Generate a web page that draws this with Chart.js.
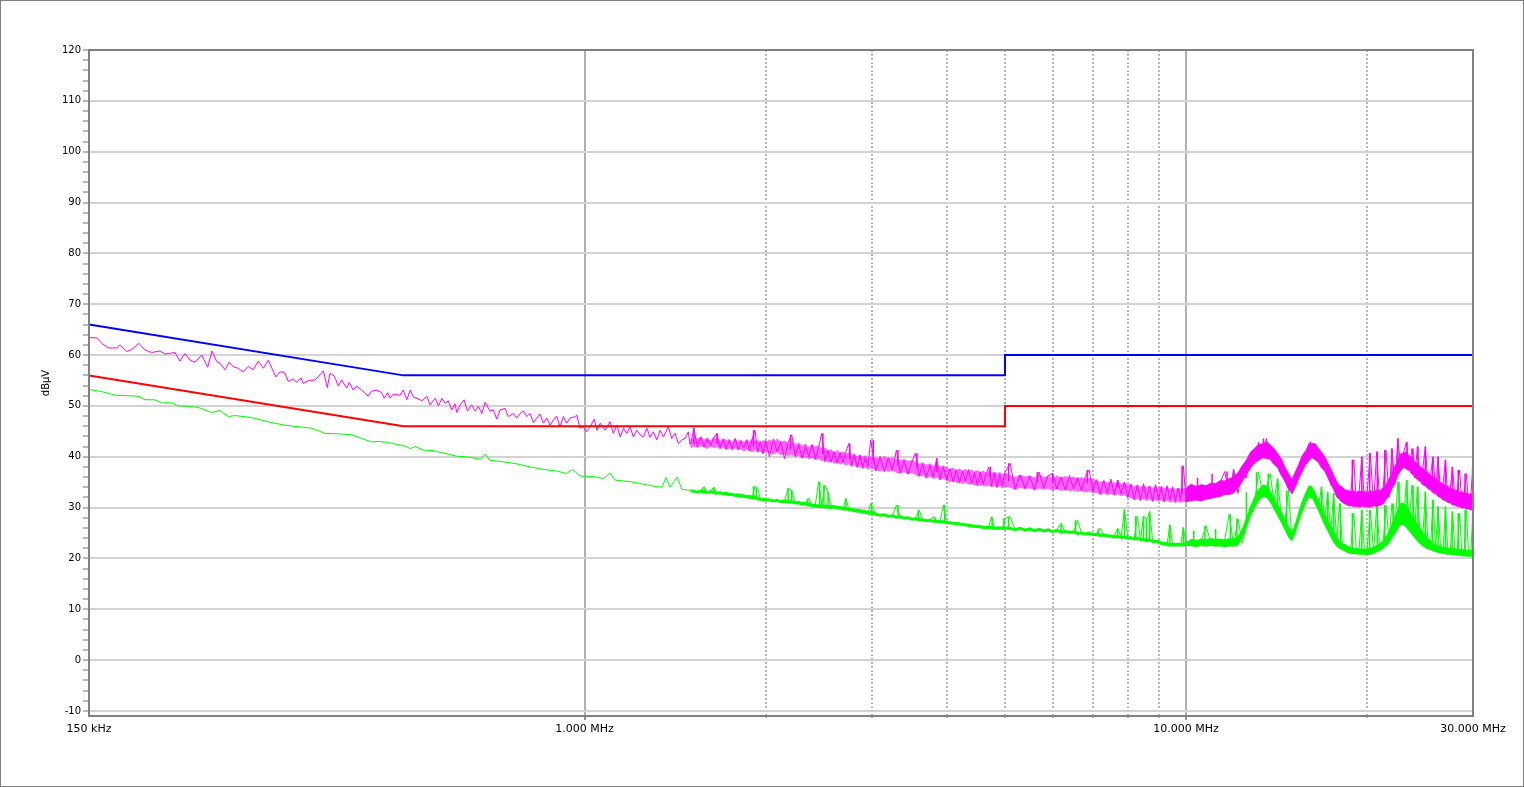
<!DOCTYPE html>
<html><head><meta charset="utf-8">
<script src="https://cdn.jsdelivr.net/npm/chart.js@4.4.0/dist/chart.umd.min.js"></script>
<style>html,body{margin:0;padding:0;background:#fff;}canvas{display:block;}</style>
</head><body>
<canvas id="c" width="1524" height="787"></canvas>
<script>
// ---- Limit lines (MHz, dBµV) ----
const qpLimitFreq = [0.15, 0.5, 5, 5, 30];
const qpLimit     = [66, 56, 56, 60, 60];
const avLimitFreq = [0.15, 0.5, 5, 5, 30];
const avLimit     = [56, 46, 46, 50, 50];

// ---- Peak (magenta) trace, 0.15 - 1.5 MHz ----
const peakFreqLow = [
 0.1506,0.1546,0.1575,0.1615,0.1668,0.1689,0.1733,0.1767,0.1816,0.1859,
 0.1907,0.1969,0.2006,0.2085,0.2125,0.2166,0.2208,0.2251,0.2309,0.2363,
 0.2402,0.2446,0.2477,0.2525,0.2565,0.2606,0.2656,0.2707,0.2760,0.2813,
 0.2868,0.2924,0.2980,0.3067,0.3118,0.3169,0.3218,0.3280,0.3323,0.3377,
 0.3407,0.3473,0.3563,0.3608,0.3679,0.3735,0.3773,0.3836,0.3896,0.3946,
 0.4022,0.4063,0.4126,0.4180,0.4261,0.4369,0.4425,0.4510,0.4600,0.4645,
 0.4707,0.4749,0.4809,0.4935,0.4996,0.5064,0.5131,0.5197,0.5265,0.5365,
 0.5466,0.5535,0.5645,0.5717,0.5792,0.5864,0.5936,0.6012,0.6091,0.6132,
 0.6211,0.6306,0.6385,0.6490,0.6575,0.6660,0.6749,0.6834,0.6964,0.7052,
 0.7146,0.7238,0.7376,0.7467,0.7613,0.7714,0.7813,0.7911,0.8013,0.8117,
 0.8222,0.8329,0.8434,0.8540,0.8653,0.8763,0.8873,0.8987,0.9103,0.9220,
 0.9340,0.9457,0.9642,0.9705,0.9828,0.9951,1.0084,1.0217,1.0378,1.0486,
 1.0618,1.0819,1.1022,1.1167,1.1317,1.1463,1.1608,1.1758,1.1903,1.2053,
 1.2215,1.2373,1.2531,1.2694,1.2852,1.3010,1.3186,1.3356,1.3526,1.3784,
 1.3959,1.4139,1.4322,1.4511,1.4694,1.4878,1.4972];
const peakLow = [
 63.4,63.4,62.3,61.4,61.4,62.0,60.7,61.1,62.3,61.0,
 60.5,60.8,60.2,60.5,58.8,60.3,59.0,58.6,60.0,57.6,
 60.8,58.7,58.4,57.1,58.6,57.7,57.4,56.7,57.8,57.1,
 58.8,57.4,59.0,55.7,56.7,56.6,54.8,55.3,54.6,55.5,
 54.4,55.0,55.1,55.7,56.9,53.6,56.4,55.9,53.9,55.1,
 53.5,54.6,53.1,53.9,53.1,51.9,52.9,53.1,52.6,51.5,
 52.6,51.5,52.3,52.1,53.1,51.2,53.1,51.7,51.5,51.0,
 51.9,50.2,51.5,50.0,51.5,50.5,51.0,49.2,50.4,48.7,
 50.2,51.2,49.0,50.2,49.0,49.9,48.5,50.7,49.0,49.2,
 47.4,49.2,49.5,47.9,48.5,47.6,48.5,49.0,47.9,48.5,
 46.7,47.6,48.4,46.6,47.6,46.2,47.2,48.0,45.9,47.9,
 46.6,47.6,47.9,48.2,45.6,45.9,44.9,45.9,47.4,45.2,
 46.6,45.2,46.9,44.6,46.2,43.9,45.6,44.6,45.9,43.9,
 45.2,44.3,43.9,45.6,43.8,44.9,43.3,45.2,43.9,45.9,
 43.6,44.6,42.6,43.3,43.6,44.9,42.4];

// ---- Average (green) trace, 0.15 - 1.5 MHz ----
const avgFreqLow = [
 0.1506,0.1575,0.1658,0.1811,0.1859,0.1931,0.1981,0.2059,0.2111,0.2193,
 0.2279,0.2399,0.2477,0.2557,0.2623,0.2796,0.2906,0.3019,0.3177,0.3343,
 0.3518,0.3703,0.3896,0.4101,0.4261,0.4425,0.4540,0.4718,0.4841,0.4935,
 0.5030,0.5131,0.5231,0.5398,0.5604,0.5831,0.6132,0.6450,0.6706,0.6834,
 0.6964,0.7326,0.7714,0.8117,0.8540,0.8987,0.9340,0.9556,0.9828,1.0349,
 1.0751,1.1022,1.1242,1.1903,1.2531,1.3186,1.3443,1.3665,1.3870,1.4262,
 1.4511,1.4972];
const avgLow = [
 53.2,52.8,52.1,51.9,51.2,51.2,50.6,50.6,50.0,49.9,
 49.7,48.7,49.1,47.9,48.1,47.7,47.2,46.7,46.2,45.9,
 45.6,44.6,44.5,44.3,43.6,42.9,43.0,42.8,42.5,42.3,
 42.1,41.6,42.0,41.3,41.2,40.7,40.1,39.9,39.5,40.5,
 39.3,39.0,38.6,38.0,37.5,37.2,36.7,37.5,36.2,36.1,
 35.7,36.8,35.4,35.1,34.6,34.1,34.0,35.9,34.0,36.0,
 33.6,33.4];

// ---- Dense sweep 1.5 - 30 MHz ----
const sweepFreq = [
 1.50,1.52,1.54,1.56,1.58,1.60,1.62,1.64,1.66,1.68,1.70,1.72,1.74,1.76,1.78,1.80,1.82,1.84,1.86,1.88,1.90,1.92,1.94,1.96,1.98,2.00,
 2.03,2.06,2.09,2.12,2.15,2.18,2.21,2.24,2.27,2.30,2.33,2.36,2.39,2.42,2.45,2.48,2.51,2.54,2.57,2.60,2.63,2.66,2.69,2.72,2.75,2.78,2.81,2.84,2.87,2.90,2.93,2.96,2.99,
 3.05,3.10,3.15,3.20,3.25,3.30,3.35,3.40,3.45,3.50,3.55,3.60,3.65,3.70,3.75,3.80,3.85,3.90,3.95,4.00,
 4.05,4.10,4.15,4.20,4.25,4.30,4.35,4.40,4.45,4.50,4.55,4.60,4.65,4.70,4.75,4.80,4.85,4.90,4.95,5.00,
 5.1,5.2,5.3,5.4,5.5,5.6,5.7,5.8,5.9,6.0,6.1,6.2,6.3,6.4,6.5,6.6,6.7,6.8,6.9,7.0,
 7.1,7.2,7.3,7.4,7.5,7.6,7.7,7.8,7.9,8.0,8.1,8.2,8.3,8.4,8.5,8.6,8.7,8.8,8.9,9.0,
 9.1,9.2,9.3,9.4,9.5,9.6,9.7,9.8,9.9,10.0,
 10.2,10.4,10.6,10.8,11.0,11.2,11.4,11.6,11.8,12.0,12.2,12.4,12.6,12.8,13.0,13.2,13.4,13.6,13.8,14.0,
 14.2,14.4,14.6,14.8,15.0,15.2,15.4,15.6,15.8,16.0,16.2,16.4,16.6,16.8,17.0,17.2,17.4,17.6,17.8,18.0,
 18.2,18.4,18.6,18.8,19.0,19.2,19.4,19.6,19.8,20.0,
 20.25,20.50,20.75,21.00,21.25,21.50,21.75,22.00,22.25,22.50,22.75,23.00,23.25,23.50,23.75,24.00,24.25,24.50,24.75,25.00,
 25.25,25.50,25.75,26.00,26.25,26.50,26.75,27.00,27.25,27.50,27.75,28.00,28.25,28.50,28.75,29.00,29.25,29.50,29.75,30.00];
// individual sweep readings (noisy trace)
const peakSweep = [
 42.4,45.6,42.0,43.9,41.9,43.5,42.2,43.8,44.6,41.8,43.4,41.5,43.2,41.6,43.6,41.4,43.0,41.8,43.3,41.2,43.5,45.2,41.0,43.0,40.6,43.2,
 40.0,43.5,41.0,43.0,39.6,42.8,44.3,40.2,42.3,39.8,42.0,40.0,42.4,39.6,41.8,44.6,39.0,41.2,38.9,41.0,38.7,40.8,38.9,41.0,42.6,38.3,40.3,38.0,40.2,37.9,39.8,38.1,43.3,
 37.2,40.1,37.0,39.8,37.3,41.3,36.8,39.2,36.6,38.9,40.7,36.3,38.5,35.8,38.3,36.0,39.7,35.5,38.0,35.4,
 37.6,35.0,37.4,34.8,37.2,35.2,37.5,34.6,36.9,34.3,37.0,34.5,36.6,38.0,34.2,36.8,34.0,36.5,34.3,36.9,
 38.7,33.6,36.4,33.8,36.2,33.5,37.0,33.9,36.3,36.7,33.6,36.0,33.4,36.3,33.7,35.9,33.3,36.1,37.4,33.2,
 35.5,32.6,35.3,32.8,35.6,32.5,35.4,32.7,35.0,32.0,34.6,31.6,34.4,31.4,34.7,31.8,34.2,31.2,34.5,31.5,
 34.0,31.1,34.3,31.6,34.1,31.2,33.8,31.4,38.2,31.3,
 34.2,31.5,34.0,31.6,34.5,31.9,35.0,37.1,32.5,37.5,32.8,37.2,35.8,40.2,38.6,41.8,39.8,43.6,39.9,41.5,
 38.0,39.6,35.8,36.5,33.0,36.2,36.3,39.8,39.0,42.6,40.3,42.3,39.0,40.2,37.2,37.8,34.5,35.6,32.4,34.0,
 31.2,33.5,30.8,33.2,39.4,31.0,33.0,40.0,30.6,32.9,
 40.7,30.4,41.0,30.6,33.2,41.3,32.0,41.6,34.5,43.6,37.8,40.8,42.9,37.5,41.6,35.8,42.0,35.3,37.5,42.0,
 34.3,36.5,40.0,33.2,40.0,32.6,34.6,39.4,31.8,33.8,38.0,31.0,33.4,37.4,30.6,32.9,36.7,30.3,32.6,38.0];
const avgSweep = [
 33.4,33.3,33.0,33.4,34.1,33.0,33.3,34.0,32.8,33.1,32.7,33.0,32.5,32.8,32.4,32.6,32.2,32.5,32.0,32.3,32.0,34.2,33.8,31.6,31.8,31.4,
 31.6,31.2,31.5,31.0,31.3,33.8,33.4,30.9,31.1,30.6,30.9,31.8,30.3,30.6,35.1,30.4,34.4,33.1,30.0,30.3,29.9,30.2,29.8,31.8,29.7,29.4,29.7,29.3,29.5,29.1,29.3,28.9,30.8,
 28.7,28.4,28.6,28.2,28.4,30.5,28.0,27.8,28.1,27.7,27.9,29.5,27.6,27.4,27.6,28.2,27.3,27.1,30.5,27.0,
 26.8,27.0,26.7,26.9,26.5,26.7,26.4,26.6,26.2,26.4,26.1,26.3,26.0,26.3,28.2,26.0,25.8,26.1,25.7,27.9,
 28.2,25.7,26.1,25.6,26.0,25.5,25.9,25.4,25.8,25.3,25.6,26.9,25.1,25.4,25.0,27.5,25.1,24.9,25.2,24.7,
 25.0,25.9,24.5,24.8,24.3,24.6,25.9,24.2,29.6,24.0,24.3,23.8,28.3,23.7,28.3,27.5,29.2,23.6,23.3,23.5,
 22.9,23.2,22.7,26.6,22.6,22.9,22.5,22.8,26.1,22.7,
 23.4,22.8,23.5,26.4,22.9,23.6,22.7,23.8,28.7,22.5,27.8,23.0,26.5,28.5,31.0,37.0,33.0,33.8,36.7,31.2,
 35.7,28.3,27.0,33.4,24.0,26.0,28.2,31.0,32.2,33.6,32.8,31.2,30.0,34.1,27.5,33.1,25.0,32.8,23.5,30.8,
 22.4,22.8,21.7,22.3,28.9,21.5,21.9,29.5,21.3,21.8,
 29.5,21.4,30.2,21.9,22.5,30.5,23.6,30.8,25.8,35.1,28.5,27.4,35.4,27.2,34.4,25.8,34.1,24.5,24.0,33.1,
 22.8,22.6,31.5,22.0,30.2,21.7,21.5,30.2,21.3,21.6,29.2,21.1,21.4,28.9,21.0,21.3,29.5,20.8,21.2,28.9];
// band envelopes of the dense sweep (top / bottom)
const peakTop = [
 43.2,43.9,43.5,44.0,43.4,43.8,43.2,43.9,43.6,43.1,43.7,43.3,43.5,42.9,43.6,43.1,43.4,42.8,43.5,43.0,43.6,43.2,43.4,42.8,43.3,43.0,
 43.4,43.0,43.6,42.9,43.2,42.7,43.1,42.4,42.8,42.2,42.6,41.9,42.4,42.0,42.2,41.6,41.8,41.2,41.5,40.9,41.3,40.8,41.1,40.6,40.9,40.4,40.7,40.1,40.5,40.0,40.3,39.8,40.1,
 39.9,39.6,40.1,39.7,39.9,39.5,39.3,39.6,39.1,39.4,39.0,38.6,38.9,38.4,38.7,38.2,38.5,38.0,38.3,37.9,
 37.6,37.9,37.4,37.7,37.3,37.6,37.2,37.5,37.1,37.4,37.0,37.3,36.9,37.2,36.8,37.1,36.7,37.0,36.6,36.9,
 36.4,36.0,36.5,36.1,36.3,35.9,36.4,36.0,36.2,35.8,36.3,35.9,36.2,35.8,36.1,35.7,36.0,35.6,35.9,35.6,
 35.4,35.0,35.3,34.9,35.2,34.8,35.1,34.7,35.0,34.6,34.6,34.2,34.5,34.1,34.4,34.0,34.3,33.9,34.2,33.9,
 34.3,33.8,34.1,33.7,34.0,33.6,33.9,33.6,33.9,33.7,
 34.6,34.1,34.5,34.3,34.8,34.7,35.3,35.2,35.7,35.9,36.8,38.2,39.3,40.9,41.6,42.4,42.5,42.9,42.3,41.6,
 40.6,39.5,37.9,36.7,35.5,37.0,38.5,40.2,41.1,42.3,42.6,42.5,41.6,40.9,40.0,38.8,37.6,36.3,35.1,34.3,
 34.0,33.4,33.4,33.1,33.3,33.0,33.2,33.1,33.2,32.9,
 33.3,33.1,33.4,33.3,33.9,34.4,35.6,36.6,38.1,39.2,40.5,40.8,40.8,40.1,39.8,39.0,38.7,38.0,37.7,37.1,
 36.9,36.3,36.1,35.5,35.4,34.8,34.7,34.2,34.2,33.7,33.7,33.3,33.4,33.0,33.1,32.8,32.9,32.6,32.7,32.5];
const peakBot = [
 41.6,42.0,41.7,42.1,41.8,41.5,42.0,41.7,41.9,41.4,41.8,41.3,41.6,41.2,41.7,41.3,41.5,41.0,41.4,41.1,40.9,41.3,40.8,41.1,40.6,40.9,
 40.8,40.5,40.9,40.3,40.6,40.1,40.4,39.9,40.2,39.6,40.0,39.5,39.8,39.3,39.6,39.1,39.4,38.8,39.1,38.6,38.9,38.4,38.7,38.2,38.5,38.0,38.3,37.8,38.1,37.6,37.9,37.5,37.7,
 37.4,37.1,37.5,37.0,37.3,36.8,36.7,37.0,36.5,36.8,36.4,36.0,36.3,35.8,36.1,35.6,35.9,35.4,35.7,35.2,
 35.0,35.3,34.8,35.1,34.6,34.9,34.5,34.8,34.3,34.6,34.2,34.5,34.1,34.4,34.0,34.3,33.9,34.2,33.8,34.1,
 33.9,33.5,33.9,33.6,33.8,33.4,33.8,33.5,33.7,33.3,33.6,33.3,33.5,33.2,33.4,33.1,33.3,32.9,33.2,32.8,
 32.9,32.5,32.8,32.4,32.7,32.3,32.6,32.2,32.4,32.0,31.9,31.5,31.8,31.4,31.7,31.3,31.6,31.2,31.5,31.2,
 31.5,31.1,31.4,31.0,31.3,30.9,31.2,30.9,31.2,31.1,
 31.4,31.5,31.3,31.7,31.8,32.1,32.2,32.6,32.6,32.9,33.9,35.2,36.6,37.8,38.9,39.3,39.8,39.7,39.5,38.5,
 37.9,36.4,35.2,33.6,32.7,34.1,35.8,37.1,38.4,39.2,39.9,39.4,38.9,37.8,37.3,36.0,34.7,33.6,32.1,31.6,
 31.0,30.7,30.4,30.4,30.2,30.3,30.1,30.3,30.2,30.1,
 30.1,30.4,30.2,30.5,30.7,31.6,32.4,33.8,34.9,36.4,37.3,38.0,37.6,37.3,36.6,36.2,35.5,35.2,34.5,34.3,
 33.7,33.5,32.9,32.7,32.2,32.0,31.5,31.4,31.0,30.9,30.5,30.5,30.2,30.2,29.9,30.0,29.7,29.8,29.5,29.7];
const avgTop = [
 33.6,33.5,33.3,33.5,33.4,33.2,33.4,33.3,33.1,33.2,33.0,33.1,32.9,32.9,32.7,32.8,32.6,32.6,32.4,32.5,32.3,32.4,32.1,32.0,31.9,31.9,
 31.8,31.6,31.7,31.5,31.6,31.4,31.5,31.2,31.3,31.1,31.1,30.9,30.8,30.7,30.6,30.6,30.5,30.5,30.4,30.5,30.3,30.3,30.1,30.1,30.0,29.9,29.8,29.7,29.7,29.5,29.5,29.3,29.3,
 29.0,28.8,28.9,28.6,28.7,28.4,28.5,28.2,28.3,28.0,28.1,27.9,27.9,27.7,27.8,27.6,27.6,27.5,27.5,27.3,
 27.3,27.2,27.1,27.1,26.9,26.9,26.8,26.7,26.6,26.6,26.5,26.4,26.4,26.4,26.3,26.3,26.2,26.3,26.2,26.3,
 26.2,26.0,26.2,25.9,26.1,25.8,26.0,25.7,25.9,25.6,25.8,25.5,25.6,25.4,25.5,25.2,25.3,25.1,25.2,25.0,
 25.0,24.8,24.9,24.7,24.7,24.5,24.6,24.4,24.5,24.3,24.3,24.1,24.2,24.0,24.0,23.8,23.9,23.6,23.7,23.5,
 23.3,23.2,23.2,23.0,23.1,23.0,23.1,23.0,23.1,23.2,
 23.8,23.6,23.9,23.7,24.0,23.8,23.9,23.7,24.0,23.9,24.3,26.0,28.2,30.4,32.2,33.6,34.5,34.4,33.4,32.0,
 30.7,29.3,27.9,26.5,25.3,27.1,29.4,31.4,33.0,34.4,34.2,33.0,31.6,30.2,28.8,27.7,26.5,25.4,24.3,23.5,
 23.0,22.7,22.4,22.2,22.1,22.0,22.0,21.9,21.9,21.9,
 22.1,22.3,22.6,23.0,23.5,24.3,25.5,27.0,28.5,29.8,31.0,30.9,30.3,29.5,28.6,27.7,26.9,26.1,25.3,24.6,
 24.0,23.5,23.1,22.8,22.5,22.4,22.3,22.2,22.1,22.1,22.0,22.0,21.9,21.9,21.8,21.8,21.7,21.7,21.7,21.7];
const avgBot = [
 33.0,32.9,32.8,32.9,32.7,32.7,32.8,32.6,32.5,32.6,32.4,32.4,32.2,32.3,32.1,32.1,31.9,32.0,31.8,31.8,31.6,31.7,31.4,31.4,31.2,31.2,
 31.2,31.0,31.1,30.9,30.9,30.8,30.8,30.6,30.6,30.4,30.4,30.2,30.1,30.0,29.9,29.9,29.8,29.8,29.7,29.8,29.6,29.6,29.4,29.4,29.3,29.2,29.1,29.0,29.0,28.8,28.8,28.6,28.6,
 28.4,28.2,28.3,28.0,28.1,27.8,27.9,27.6,27.7,27.4,27.5,27.3,27.3,27.1,27.2,27.0,27.0,26.9,26.9,26.7,
 26.7,26.6,26.5,26.5,26.3,26.3,26.2,26.1,26.0,26.0,25.9,25.8,25.8,25.8,25.7,25.7,25.6,25.7,25.6,25.7,
 25.6,25.4,25.6,25.3,25.5,25.2,25.4,25.1,25.3,25.0,25.2,24.9,25.0,24.8,24.9,24.6,24.7,24.5,24.6,24.4,
 24.4,24.2,24.3,24.1,24.1,23.9,24.0,23.8,23.9,23.7,23.7,23.5,23.6,23.4,23.4,23.2,23.3,23.0,23.1,22.9,
 22.6,22.5,22.5,22.3,22.4,22.3,22.4,22.3,22.4,22.5,
 22.4,22.2,22.5,22.3,22.5,22.3,22.4,22.2,22.4,22.3,22.5,24.0,25.8,28.2,29.8,31.2,32.1,32.0,31.0,29.6,
 28.3,26.9,25.5,24.1,23.3,24.9,27.0,29.0,30.6,32.0,31.8,30.6,29.2,27.8,26.4,25.3,24.1,23.1,22.3,21.9,
 21.6,21.3,21.0,20.9,20.8,20.8,20.7,20.7,20.7,20.7,
 20.7,20.9,21.2,21.5,21.9,22.4,23.0,23.9,24.8,25.8,26.6,26.5,26.0,25.3,24.6,23.9,23.3,22.8,22.4,22.0,
 21.8,21.6,21.4,21.2,21.1,20.9,20.9,20.8,20.7,20.7,20.6,20.6,20.5,20.5,20.4,20.4,20.3,20.3,20.3,20.3];

// ---- Narrow spikes (frequency, band level, spike top) ----
const peakSpikeFreq = [1.52,1.66,1.91,2.20,2.49,2.76,3.02,3.32,3.57,3.85,4.73,5.07,5.66,6.00,6.85,7.70,9.85,10.45,11.05,11.70,12.00,13.20,13.45,16.10,
 18.90,19.60,20.20,20.80,21.40,22.00,22.50,23.30,23.85,24.30,25.00,25.70,26.25,27.00,27.70,28.35,29.10,29.95];
const peakSpikeBase = [42.5,42.5,42.0,41.5,40.5,39.5,39.0,38.2,37.7,37.0,35.8,35.2,35.0,35.0,34.8,34.0,32.6,33.0,33.2,34.0,34.4,40.9,41.2,41.0,
 31.8,31.8,31.7,31.8,32.7,35.2,37.8,39.1,37.9,37.0,35.7,34.6,33.8,32.8,32.1,31.7,31.4,31.1];
const peakSpikeTop = [45.6,44.6,45.2,44.3,44.6,42.6,43.3,41.3,40.7,39.7,38.0,38.7,37.0,36.7,37.4,35.4,38.2,35.8,36.6,37.1,37.5,42.9,43.6,43.0,
 39.4,40.0,40.7,41.0,41.3,41.6,43.6,42.9,41.6,42.0,42.0,40.0,40.0,39.4,38.0,37.4,36.7,38.0];
const avgSpikeFreq = [1.58,1.64,1.91,1.93,2.18,2.21,2.35,2.46,2.50,2.54,2.72,3.00,3.32,3.59,3.82,3.97,4.76,4.98,5.07,6.20,6.55,7.15,7.70,7.90,
 8.25,8.50,8.60,8.70,9.40,9.90,10.30,10.75,11.20,11.85,12.15,12.60,13.10,13.70,14.20,14.70,16.80,17.20,17.60,18.05,
 18.90,19.60,20.20,20.80,21.40,22.10,22.60,23.30,23.85,24.30,25.00,25.70,26.25,27.00,27.70,28.35,29.10,29.95];
const avgSpikeBase = [33.2,33.0,32.0,32.0,31.2,31.2,30.6,30.2,30.2,30.2,29.8,29.0,28.1,27.6,27.3,27.0,26.0,26.0,25.9,25.2,25.0,24.6,24.3,24.2,
 23.9,23.8,23.7,23.6,22.8,22.8,23.0,23.1,23.1,23.1,23.3,27.0,31.8,32.8,29.5,26.0,29.0,26.5,24.2,22.6,
 21.5,21.3,21.4,21.9,23.1,25.0,28.2,28.0,26.3,25.0,23.4,22.3,21.8,21.5,21.3,21.2,21.0,21.0];
const avgSpikeTop = [34.1,34.0,34.2,33.8,33.8,33.4,31.8,35.1,34.4,33.1,31.8,30.8,30.5,29.5,28.2,30.5,28.2,27.9,28.2,26.9,27.5,25.9,25.9,29.6,
 28.3,28.3,27.5,29.2,26.6,26.1,25.5,26.4,25.8,28.7,27.8,33.0,37.0,36.7,35.7,33.4,34.1,33.1,32.8,30.8,
 28.9,29.5,29.5,30.2,30.5,30.8,35.1,35.4,34.4,34.1,33.1,31.5,30.2,30.2,29.2,28.9,29.5,28.9];

// ---- Axis ticks ----
const xTickValues = [0.15, 1, 2, 3, 4, 5, 6, 7, 8, 9, 10, 20, 30];
const xTickLabels = ['150 kHz', '1.000 MHz', '', '', '', '', '', '', '', '', '10.000 MHz', '', '30.000 MHz'];
const xDecadeLines = [1, 10];
const yMajorTicks = [-10, 0, 10, 20, 30, 40, 50, 60, 70, 80, 90, 100, 110, 120];
const yTitle = 'dBµV';

function pts(fs, vs) { return fs.map((f, i) => ({x: f, y: vs[i]})); }
function spikes(fs, lo, hi) {
  const out = [];
  fs.forEach((f, i) => { out.push({x: f, y: lo[i]}, {x: f, y: hi[i]}, {x: f, y: null}); });
  return out;
}
// split the dense band where the sweep reaches 10 MHz (lighter noisy band below, solid band above)
const SPLIT = sweepFreq.indexOf(10.0);
const lo = a => a.slice(0, SPLIT + 1);
const hi = a => a.slice(SPLIT);

const MAG = '#ff00ff', GRN = '#00ff00', CLEAR = 'rgba(0,0,0,0)';
const MAG_LIGHT = 'rgba(255,0,255,0.6)';
const FONT = 'DejaVu Sans';

const framePlugin = {
  id: 'frame',
  beforeDraw(chart) {
    const c = chart.ctx;
    c.save(); c.fillStyle = '#fff'; c.fillRect(0, 0, chart.width, chart.height); c.restore();
  },
  afterDraw(chart) {
    const c = chart.ctx, a = chart.chartArea;
    c.save();
    c.strokeStyle = '#808080';
    c.lineWidth = 2;
    c.strokeRect(a.left, a.top, a.right - a.left, a.bottom - a.top);
    c.lineWidth = 1;
    c.strokeRect(0.5, 0.5, chart.width - 1, chart.height - 1);
    c.restore();
  }
};

const tickVal = ctx => ctx.tick ? ctx.tick.value : null;
const isEdge = v => v === xTickValues[0] || v === xTickValues[xTickValues.length - 1];

new Chart(document.getElementById('c'), {
  type: 'line',
  data: {
    datasets: [
      {data: pts(qpLimitFreq, qpLimit), borderColor: '#0000ff', borderWidth: 2},
      {data: pts(avLimitFreq, avLimit), borderColor: '#ff0000', borderWidth: 2},
      {data: pts(peakFreqLow, peakLow), borderColor: MAG, borderWidth: 1},
      {data: pts(sweepFreq, peakSweep), borderColor: MAG, borderWidth: 1},
      {data: pts(lo(sweepFreq), lo(peakTop)), borderColor: CLEAR, borderWidth: 1, fill: '+1', backgroundColor: MAG_LIGHT},
      {data: pts(lo(sweepFreq), lo(peakBot)), borderColor: CLEAR, borderWidth: 1},
      {data: pts(hi(sweepFreq), hi(peakTop)), borderColor: MAG, borderWidth: 1, fill: '+1', backgroundColor: MAG},
      {data: pts(hi(sweepFreq), hi(peakBot)), borderColor: MAG, borderWidth: 1},
      {data: spikes(peakSpikeFreq, peakSpikeBase, peakSpikeTop), borderColor: MAG, borderWidth: 1.5},
      {data: pts(avgFreqLow, avgLow), borderColor: GRN, borderWidth: 1},
      {data: pts(sweepFreq, avgSweep), borderColor: GRN, borderWidth: 1},
      {data: pts(sweepFreq, avgTop), borderColor: CLEAR, borderWidth: 1, fill: '+1', backgroundColor: GRN},
      {data: pts(sweepFreq, avgBot), borderColor: CLEAR, borderWidth: 1},
      {data: spikes(avgSpikeFreq, avgSpikeBase, avgSpikeTop), borderColor: GRN, borderWidth: 1.5}
    ]
  },
  options: {
    responsive: false,
    animation: false,
    devicePixelRatio: 1,
    spanGaps: false,
    layout: {padding: {top: 50, right: 51, left: 0, bottom: 0}},
    elements: {point: {radius: 0}, line: {tension: 0, fill: false}},
    plugins: {legend: {display: false}, tooltip: {enabled: false}},
    scales: {
      x: {
        type: 'logarithmic',
        min: 0.15, max: 30, bounds: 'data', offset: false,
        afterBuildTicks: s => { s.ticks = xTickValues.map(v => ({value: v})); },
        afterFit: s => { s.height = 71; },
        ticks: {
          autoSkip: false, maxRotation: 0, minRotation: 0, padding: 3,
          color: '#000', font: {family: FONT, size: 11},
          callback: (v) => { const i = xTickValues.indexOf(v); return i >= 0 ? xTickLabels[i] : ''; }
        },
        grid: {
          offset: false,
          lineWidth: 2,
          color: ctx => isEdge(tickVal(ctx)) ? CLEAR : (xDecadeLines.includes(tickVal(ctx)) ? '#b0b0b0' : '#b8b8b8'),
          tickColor: ctx => isEdge(tickVal(ctx)) ? CLEAR : (xDecadeLines.includes(tickVal(ctx)) ? '#909090' : '#b8b8b8'),
          tickLength: 4, tickWidth: 2,
          tickBorderDash: ctx => xDecadeLines.includes(tickVal(ctx)) ? [] : [2, 2]
        },
        border: {display: false, dash: ctx => xDecadeLines.includes(tickVal(ctx)) ? [] : [2, 2]}
      },
      y: {
        min: -11, max: 120, bounds: 'data',
        afterBuildTicks: s => {
          const t = [];
          for (let v = yMajorTicks[0]; v <= yMajorTicks[yMajorTicks.length - 1]; v += 2) t.push({value: v});
          s.ticks = t;
        },
        afterFit: s => { s.width = 89; },
        ticks: {
          autoSkip: false, padding: 2,
          color: '#000', font: {family: FONT, size: 10},
          callback: v => yMajorTicks.includes(v) ? String(v) : ''
        },
        grid: {
          lineWidth: 2,
          color: ctx => yMajorTicks.includes(tickVal(ctx)) ? '#d3d3d3' : CLEAR,
          tickColor: '#b8b8b8', tickLength: 6, tickWidth: 2
        },
        border: {display: false},
        title: {display: true, text: yTitle, color: '#000', font: {family: FONT, size: 10}, padding: {top: 40, bottom: 0}}
      }
    }
  },
  plugins: [framePlugin]
});
</script>
</body></html>
